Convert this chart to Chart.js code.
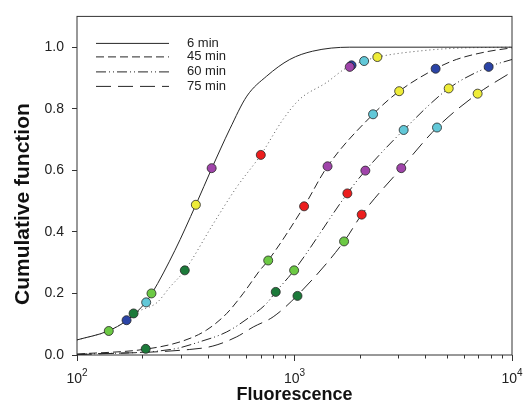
<!DOCTYPE html>
<html>
<head>
<meta charset="utf-8">
<script src="https://cdn.jsdelivr.net/npm/chart.js@4.4.1/dist/chart.umd.min.js"></script>
<style>
  html, body { margin: 0; padding: 0; background: #fff; }
</style>
</head>
<body>
<canvas id="cdf" width="525" height="417"></canvas>
<script>
// fitted cumulative curves
const fit6X = [100, 139, 170, 207, 221, 282, 352, 417, 505, 604, 745, 951, 1212, 1795, 10000];
const fit6Y = [0.049, 0.078, 0.113, 0.171, 0.2, 0.34, 0.488, 0.607, 0.735, 0.841, 0.906, 0.960, 0.987, 1.0, 1.0];

const fitDotX = [100, 139, 170, 190, 233, 267, 313, 423, 542, 700, 887, 1057, 1402, 1734, 2085, 2408, 4052, 5740, 10000];
const fitDotY = [0.049, 0.078, 0.113, 0.14, 0.17, 0.22, 0.275, 0.426, 0.545, 0.65, 0.766, 0.831, 0.885, 0.933, 0.955, 0.968, 0.99, 0.997, 1.0];

const fit45X = [100, 207, 308, 394, 488, 581, 693, 757, 1107, 1419, 2297, 3029, 4455, 5546, 7620, 10000];
const fit45Y = [0.003, 0.019, 0.046, 0.081, 0.135, 0.2, 0.275, 0.307, 0.483, 0.613, 0.782, 0.857, 0.93, 0.96, 0.985, 0.998];

const fit60X = [100, 276, 367, 488, 624, 743, 820, 996, 1750, 2117, 3176, 5117, 7810, 10000];
const fit60Y = [0.002, 0.019, 0.043, 0.075, 0.124, 0.167, 0.205, 0.275, 0.525, 0.599, 0.731, 0.866, 0.936, 0.96];

const fit75X = [100, 330, 421, 542, 646, 798, 1025, 1690, 2037, 3097, 4521, 6950, 10000];
const fit75Y = [0.001, 0.018, 0.029, 0.059, 0.091, 0.124, 0.192, 0.369, 0.456, 0.607, 0.739, 0.849, 0.92];

// measured points
const pts6X = [140, 169, 182, 208, 220, 352, 416];
const pts6Y = [0.078, 0.113, 0.135, 0.171, 0.2, 0.488, 0.607];
const pts6C = ["lgreen", "blue", "dgreen", "cyan", "lgreen", "yellow", "magenta"];

const ptsDotX = [313, 700, 1829, 1795, 2090, 2404];
const ptsDotY = [0.275, 0.65, 0.941, 0.936, 0.955, 0.968];
const ptsDotC = ["dgreen", "red", "blue", "magenta", "cyan", "yellow"];

const pts45X = [207, 757, 1107, 1419, 2297, 3029, 4455];
const pts45Y = [0.02, 0.307, 0.483, 0.613, 0.782, 0.857, 0.93];
const pts45C = ["dgreen", "lgreen", "red", "magenta", "cyan", "yellow", "blue"];

const pts60X = [820, 996, 1750, 2117, 3176, 5117, 7810];
const pts60Y = [0.205, 0.275, 0.525, 0.599, 0.731, 0.866, 0.936];
const pts60C = ["dgreen", "lgreen", "red", "magenta", "cyan", "yellow", "blue"];

const pts75X = [1032, 1690, 2037, 3097, 4521, 6950];
const pts75Y = [0.192, 0.369, 0.456, 0.607, 0.739, 0.849];
const pts75C = ["dgreen", "lgreen", "red", "magenta", "cyan", "yellow"];

// axes
const xTicks = [100, 200, 300, 400, 500, 600, 700, 800, 900, 1000, 2000, 3000, 4000, 5000, 6000, 7000, 8000, 9000, 10000];
const xMajor = [100, 1000, 10000];
const xMajorExp = ["2", "3", "4"];
const yTicks = [0, 0.2, 0.4, 0.6, 0.8, 1.0];

const legendNames = ["6 min", "45 min", "60 min", "75 min"];

const palette = {
	dgreen: "#1c7a3a",
	lgreen: "#6cc944",
	red: "#ec1d1d",
	magenta: "#a044aa",
	cyan: "#62c8d8",
	yellow: "#eeec38",
	blue: "#2b44a6",
};

const dashes = {
	solid: [],
	dotted: [1, 3],
	d45: [8, 4],
	d60: [10, 3, 1, 3, 1, 3],
	d75: [15, 7],
};

const FONT = "'Liberation Sans', Arial, sans-serif";

function toXY(xs, ys) {
	return xs.map((x, i) => ({ x: x, y: ys[i] }));
}

function curve(xs, ys, dash, color) {
	return {
		type: "line",
		data: toXY(xs, ys),
		borderColor: color || "#262626",
		borderWidth: 1,
		borderDash: dash,
		pointRadius: 0,
		fill: false,
		cubicInterpolationMode: "monotone",
		order: 2,
	};
}

function marks(xs, ys, cs) {
	return {
		type: "scatter",
		data: toXY(xs, ys),
		pointRadius: 4.5,
		pointHoverRadius: 4.5,
		pointBackgroundColor: cs.map((c) => palette[c]),
		pointBorderColor: "#262626",
		pointBorderWidth: 0.8,
		order: 1,
	};
}

// box around the plot, short minor ticks, 10^n labels
const framePlugin = {
	id: "frame",
	beforeDatasetsDraw(chart) {
		const { ctx, chartArea: a } = chart;
		const xs = chart.scales.x;
		ctx.save();
		ctx.strokeStyle = "#333";
		ctx.lineWidth = 1;
		ctx.strokeRect(a.left, a.top, a.right - a.left, a.bottom - a.top);
		ctx.beginPath();
		xTicks.forEach((v) => {
			if (xMajor.includes(v)) return;
			const px = Math.round(xs.getPixelForValue(v)) + 0.5;
			ctx.moveTo(px, a.bottom);
			ctx.lineTo(px, a.bottom + 3.5);
		});
		ctx.stroke();

		ctx.fillStyle = "#222";
		ctx.textBaseline = "alphabetic";
		xMajor.forEach((v, i) => {
			const px = xs.getPixelForValue(v);
			ctx.font = "14px " + FONT;
			const w1 = ctx.measureText("10").width;
			ctx.font = "10px " + FONT;
			const w2 = ctx.measureText(xMajorExp[i]).width;
			const x0 = px - (w1 + w2) / 2;
			ctx.font = "14px " + FONT;
			ctx.fillText("10", x0, a.bottom + 28);
			ctx.font = "10px " + FONT;
			ctx.fillText(xMajorExp[i], x0 + w1, a.bottom + 21);
		});
		ctx.restore();
	},
};

// legend inside the plot, upper left
const legendPlugin = {
	id: "cornerLegend",
	afterDatasetsDraw(chart) {
		const { ctx, chartArea: a } = chart;
		const styles = [dashes.solid, dashes.d45, dashes.d60, dashes.d75];
		const rows = [27, 40.5, 55.5, 70];
		ctx.save();
		ctx.font = "13px " + FONT;
		ctx.fillStyle = "#222";
		ctx.textBaseline = "middle";
		legendNames.forEach((name, i) => {
			const y = a.top + rows[i];
			ctx.beginPath();
			ctx.setLineDash(styles[i]);
			ctx.strokeStyle = "#262626";
			ctx.lineWidth = 1;
			ctx.moveTo(a.left + 19, y);
			ctx.lineTo(a.left + 92, y);
			ctx.stroke();
			ctx.setLineDash([]);
			ctx.fillText(name, a.left + 110, y);
		});
		ctx.restore();
	},
};

// y title centred on the 0..1 range
const yTitlePlugin = {
	id: "yTitle",
	afterDraw(chart) {
		const { ctx } = chart;
		const ys = chart.scales.y;
		const cy = (ys.getPixelForValue(0) + ys.getPixelForValue(1)) / 2 + 3;
		ctx.save();
		ctx.translate(23, cy);
		ctx.rotate(-Math.PI / 2);
		ctx.font = "bold 21px " + FONT;
		ctx.fillStyle = "#111";
		ctx.textAlign = "center";
		ctx.textBaseline = "middle";
		ctx.fillText("Cumulative function", 0, 0);
		ctx.restore();
	},
};

const ctx = document.getElementById("cdf").getContext("2d");
new Chart(ctx, {
	data: {
		datasets: [
			marks(pts6X, pts6Y, pts6C),
			marks(ptsDotX, ptsDotY, ptsDotC),
			marks(pts45X, pts45Y, pts45C),
			marks(pts60X, pts60Y, pts60C),
			marks(pts75X, pts75Y, pts75C),
			curve(fit6X, fit6Y, dashes.solid),
			curve(fitDotX, fitDotY, dashes.dotted, "#555"),
			curve(fit45X, fit45Y, dashes.d45),
			curve(fit60X, fit60Y, dashes.d60),
			curve(fit75X, fit75Y, dashes.d75),
		],
	},
	options: {
		responsive: false,
		animation: false,
		layout: { padding: { left: 0, right: 13, top: 15, bottom: 0 } },
		plugins: {
			legend: { display: false },
			tooltip: { enabled: false },
		},
		scales: {
			x: {
				type: "logarithmic",
				min: 100,
				max: 10000,
				afterBuildTicks: (scale) => {
					scale.ticks = xTicks.map((v) => ({ value: v }));
				},
				afterFit: (scale) => {
					scale.height = 62;
				},
				border: { display: false },
				grid: {
					drawOnChartArea: false,
					drawTicks: true,
					tickLength: 6,
					tickColor: (c) => (c.tick && xMajor.includes(c.tick.value) ? "#333" : "rgba(0,0,0,0)"),
				},
				ticks: {
					autoSkip: false,
					maxRotation: 0,
					padding: 4,
					font: { family: FONT, size: 14 },
					callback: () => "",
				},
				title: {
					display: true,
					text: "Fluorescence",
					color: "#111",
					font: { family: FONT, size: 18, weight: "bold" },
					padding: { top: 0, bottom: 11 },
				},
			},
			y: {
				type: "linear",
				min: 0,
				max: 1.1,
				afterBuildTicks: (scale) => {
					scale.ticks = yTicks.map((v) => ({ value: v }));
				},
				afterFit: (scale) => {
					scale.width = 77;
				},
				border: { display: false },
				grid: {
					drawOnChartArea: false,
					drawTicks: true,
					tickLength: 5,
					tickColor: "#333",
				},
				ticks: {
					padding: 8,
					color: "#222",
					font: { family: FONT, size: 14 },
					callback: (v) => v.toFixed(1),
				},
			},
		},
	},
	plugins: [framePlugin, legendPlugin, yTitlePlugin],
});
</script>
</body>
</html>
